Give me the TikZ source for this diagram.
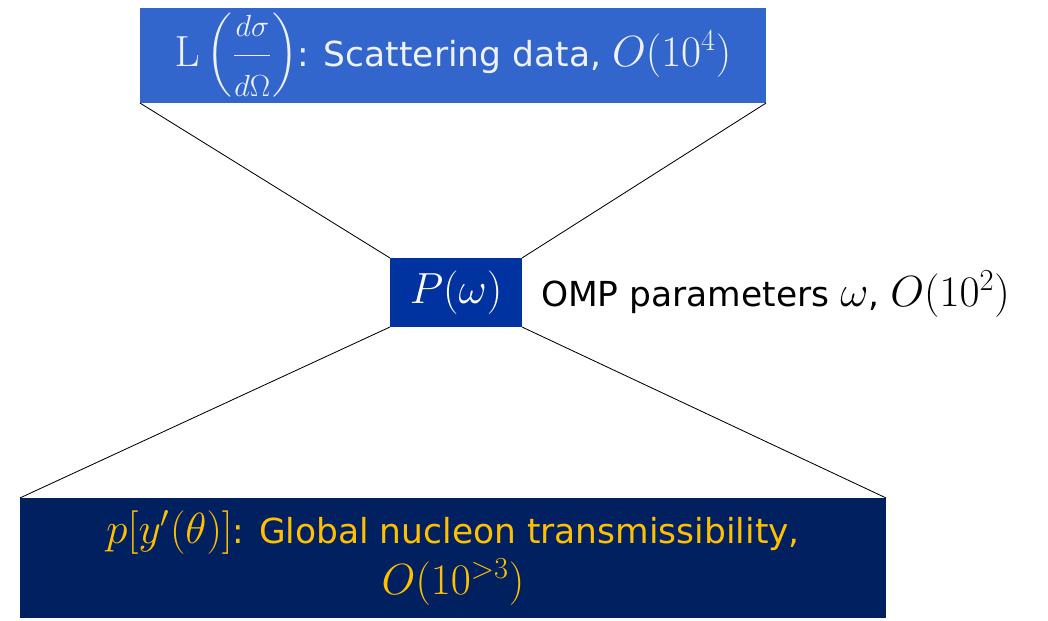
\RequirePackage{fix-cm}
\documentclass[tikz,border=0pt]{standalone}
\usepackage{amsmath}
\usepackage[no-math]{fontspec}
\setmainfont{DejaVu Sans}
\definecolor{topblue}{HTML}{3366CC}
\definecolor{midblue}{HTML}{0033A0}
\definecolor{navyblue}{HTML}{002060}
\definecolor{goldtext}{HTML}{FFC000}
\definecolor{paletext}{HTML}{EEF2FA}
\newcommand{\bigmath}[1]{{\fontsize{31}{36}\selectfont$#1$}}
\begin{document}
\begin{tikzpicture}[x=0.025cm,y=-0.025cm,
  box/.style={draw=none,inner sep=0pt,outer sep=0pt,align=center},
  link/.style={draw=black,line width=0.6pt},
  big/.style={font=\fontsize{24.5}{36}\selectfont}]
\useasboundingbox (0,0) rectangle (1048,620);
\node[box,big,fill=topblue,minimum width=15.65cm,minimum height=2.375cm,text=paletext] (top) at (453,55.5)
  {\bigmath{\mathrm{L}\left(\dfrac{\scriptstyle d\sigma}{\scriptstyle d\Omega}\right)}: Scattering data, \bigmath{O(10^4)}};
\node[box,big,fill=midblue,minimum width=3.3cm,minimum height=1.725cm,text=white] (mid) at (456,292.5) {\bigmath{P(\omega)}};
\node[box,big,fill=navyblue,minimum width=21.65cm,minimum height=3cm,text=goldtext] (bot) at (453,558)
  {\bigmath{p[y'(\theta)]}: Global nucleon transmissibility,\\ \bigmath{O(10^{>3})}};
\node[box,big,anchor=base west,text=black] (omp) at (541,306) {OMP parameters \bigmath{\omega}, \bigmath{O(10^2)}};
\draw[link] (top.south west) -- (mid.north west);
\draw[link] (top.south east) -- (mid.north east);
\draw[link] (bot.north west) -- (mid.south west);
\draw[link] (bot.north east) -- (mid.south east);
\end{tikzpicture}
\end{document}
